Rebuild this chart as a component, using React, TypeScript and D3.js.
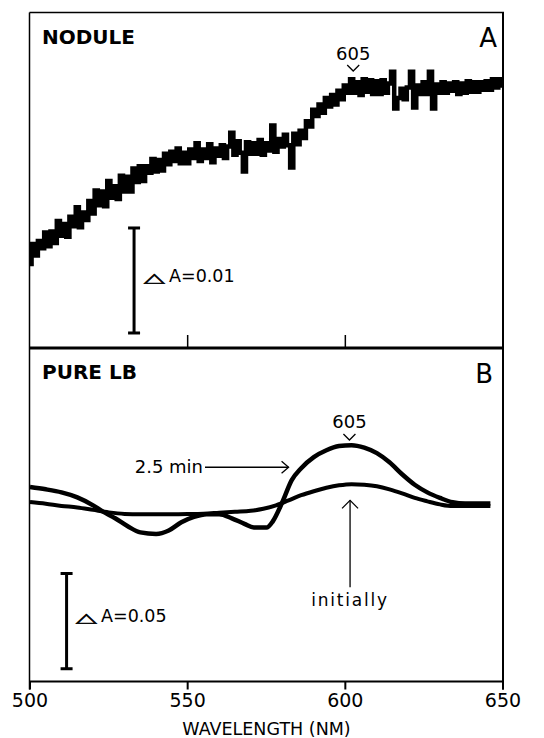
import React from "react";
import * as d3 from "d3";

// ---------- DATA ----------
// Wavelength axis
const X_TICKS = [500, 550, 600, 650];
const AXIS_TITLE = "WAVELENGTH (NM)";

// Panel A (nodule) trace, one reading per nm from 500 to 650, in mΔA (relative)
const NODULE_START_NM = 500;
const NODULE_VALUES = [
  8.0, 9.9, 8.8, 10.2, 9.5, 11.0, 9.7,
  11.1, 10.0, 12.1, 10.7, 11.8, 10.6,
  12.5, 11.6, 13.4, 11.5, 12.9,
  12.2, 14.0, 12.8, 15.0, 13.6,
  14.9, 13.5, 15.9, 14.3, 15.4, 14.2,
  16.4, 14.9, 16.3, 14.9, 17.1,
  15.8, 17.3, 15.9, 17.3, 16.7,
  18.0, 16.8, 17.9, 16.9, 18.5,
  17.5, 18.7, 17.8, 19.0, 17.6, 18.6,
  17.6, 18.9, 18.1, 19.5, 17.8,
  18.9, 18.1, 19.4, 17.7, 19.0,
  18.3, 19.3, 18.1, 19.2, 20.5,
  18.4, 19.7, 18.6, 16.8, 19.6, 18.5,
  19.5, 18.5, 19.8, 18.4, 19.5,
  18.8, 21.2, 18.7, 19.9, 19.2,
  20.3, 19.3, 17.2, 20.4, 19.4, 20.7,
  20.0, 21.6, 21.1, 22.7, 22.1,
  23.2, 22.4, 23.8, 23.0, 24.1,
  23.2, 24.5, 23.7, 25.0, 24.3,
  25.6, 24.3, 25.3, 24.1, 25.6, 24.4,
  25.5, 24.2, 25.4, 24.2, 25.5,
  24.3, 25.2, 26.3, 22.8, 23.8,
  24.7, 23.7, 24.8, 26.3, 22.9, 25.0,
  24.2, 25.3, 24.2, 26.3, 22.8,
  25.1, 24.3, 25.3, 24.3, 25.2,
  24.5, 25.3, 24.2, 25.2, 24.3, 25.4,
  24.4, 25.3, 24.4, 25.3, 24.6,
  25.4, 24.6, 25.6, 24.8, 25.6, 25.0,
];

// Panel B (pure LB), in mΔA relative to the flat tail
const LB_25MIN_NM = [500, 505, 510, 515, 520, 523, 527, 531, 535, 540, 544, 548, 552, 556, 560, 564, 568, 571, 575, 577, 580, 583, 586, 590, 594, 598, 602, 606, 610, 614, 618, 622, 626, 630, 634, 638, 642, 646];
const LB_25MIN_VALUES = [9.6, 8.4, 6.8, 4.2, 0, -3.2, -6.8, -11, -14.2, -15, -13.2, -8.9, -6.1, -4.7, -4.7, -6.8, -9.7, -11.6, -11.7, -8.4, 1.6, 13.2, 19.5, 25.3, 28.9, 31.1, 31.6, 30.3, 27.4, 22.6, 16.3, 10.8, 6.8, 3.9, 1.6, 0.9, 0.9, 0.9];
const LB_INIT_NM = [500, 505, 510, 515, 520, 525, 530, 535, 540, 545, 550, 555, 560, 565, 570, 574, 578, 582, 586, 590, 594, 598, 602, 606, 610, 614, 618, 622, 626, 630, 634, 640, 646];
const LB_INIT_VALUES = [1.7, 0.8, -0.3, -1.1, -2.4, -3.7, -4.5, -4.7, -4.7, -4.7, -4.6, -4.4, -3.9, -3.4, -2.9, -1.8, 0, 2.6, 5.3, 7.4, 9.2, 10.5, 11.1, 10.8, 10, 8.4, 6.3, 3.9, 2.1, 0.5, -0.4, -0.4, -0.4];

// Annotations
const PANEL_A_LABEL = "NODULE";
const PANEL_B_LABEL = "PURE LB";
const PEAK_LABEL = "605";
const PEAK_A_NM = 602.5;
const PEAK_B_NM = 601.3;
const DELTA = "△";
const SCALE_A = { label: "A=0.01", size: 10, nm: 533, from: 1.43 };
const SCALE_B = { label: "A=0.05", size: 50, nm: 511.6, from: -85.8 };
const ARROW_25 = { label: "2.5 min", fromNm: 555.5, toNm: 582, v: 20 };
const ARROW_INIT = { label: "initially", nm: 601.5, top: 2.6, bottom: -43, textV: -52.6 };

// ---------- LAYOUT ----------
const W = 544;
const H = 738;
const LEFT = 30;
const RIGHT = 503;
const TOP_A = 12.5;
const MID = 348;
const BOT_B = 681.5;
const FONT = "'DejaVu Sans', sans-serif";

export default function App() {
  const x = d3.scaleLinear().domain([500, 650]).range([LEFT, RIGHT]);
  const yA = d3.scaleLinear().domain([0, 31.95]).range([MID, TOP_A]);
  const yB = d3.scaleLinear().domain([-92.5, 82.6]).range([BOT_B, MID]);

  const noduleLine = d3
    .line<number>()
    .x((_, i) => x(NODULE_START_NM + i))
    .y((d) => yA(d))
    .curve(d3.curveStep);

  const lbLine = d3
    .line<[number, number]>()
    .x((d) => x(d[0]))
    .y((d) => yB(d[1]))
    .curve(d3.curveMonotoneX);

  const lb25 = LB_25MIN_NM.map((n, i) => [n, LB_25MIN_VALUES[i]] as [number, number]);
  const lbInit = LB_INIT_NM.map((n, i) => [n, LB_INIT_VALUES[i]] as [number, number]);

  const scaleBar = (cx: number, y1: number, y2: number) => (
    <g stroke="#000" strokeWidth={3}>
      <line x1={cx} x2={cx} y1={y1} y2={y2} />
      <line x1={cx - 6} x2={cx + 6} y1={y1} y2={y1} />
      <line x1={cx - 6} x2={cx + 6} y1={y2} y2={y2} />
    </g>
  );

  const triangle = (tx: number, ty: number) => (
    <text
      x={0}
      y={0}
      fontFamily={FONT}
      fontSize={30}
      transform={`translate(${tx},${ty}) scale(0.9,0.42)`}
      fill="#000"
      stroke="#000"
      strokeWidth={1.2}
    >
      {DELTA}
    </text>
  );

  const sAx = x(SCALE_A.nm);
  const sAy1 = yA(SCALE_A.from + SCALE_A.size);
  const sAy2 = yA(SCALE_A.from);
  const sBx = x(SCALE_B.nm);
  const sBy1 = yB(SCALE_B.from + SCALE_B.size);
  const sBy2 = yB(SCALE_B.from);

  const pAx = x(PEAK_A_NM);
  const pBx = x(PEAK_B_NM);

  const a25x1 = x(ARROW_25.fromNm);
  const a25x2 = x(ARROW_25.toNm);
  const a25y = yB(ARROW_25.v);

  const aIx = x(ARROW_INIT.nm);
  const aIy1 = yB(ARROW_INIT.top);
  const aIy2 = yB(ARROW_INIT.bottom);

  return (
    <svg
      width={W}
      height={H}
      style={{ position: "absolute", left: 0, top: 0, background: "#fff" }}
    >
      <rect x={0} y={0} width={W} height={H} fill="#fff" />

      {/* frame */}
      <g stroke="#000" fill="none">
        <line x1={LEFT - 0.5} x2={RIGHT + 1} y1={TOP_A} y2={TOP_A} strokeWidth={1.5} />
        <line x1={LEFT - 0.5} x2={LEFT - 0.5} y1={TOP_A} y2={BOT_B + 8} strokeWidth={1.5} />
        <line x1={RIGHT} x2={RIGHT} y1={TOP_A} y2={BOT_B + 8} strokeWidth={2} />
        <line x1={LEFT - 0.5} x2={RIGHT + 1} y1={MID} y2={MID} strokeWidth={3} />
        <line x1={LEFT - 0.5} x2={RIGHT + 1} y1={BOT_B} y2={BOT_B} strokeWidth={2} />
        {X_TICKS.slice(1, 3).map((t) => (
          <line key={"ta" + t} x1={x(t)} x2={x(t)} y1={MID - 13} y2={MID} strokeWidth={1.5} />
        ))}
        {X_TICKS.map((t) => (
          <line key={"tb" + t} x1={x(t)} x2={x(t)} y1={BOT_B} y2={BOT_B + 8} strokeWidth={2} />
        ))}
      </g>

      {/* tick labels */}
      {X_TICKS.map((t) => (
        <text
          key={"l" + t}
          x={x(t)}
          y={707}
          textAnchor="middle"
          fontFamily={FONT}
          fontSize={19}
          fill="#000"
        >
          {t}
        </text>
      ))}
      <text
        x={(LEFT + RIGHT) / 2}
        y={735}
        textAnchor="middle"
        fontFamily={FONT}
        fontSize={17.5}
        fill="#000"
      >
        {AXIS_TITLE}
      </text>

      {/* Panel A */}
      <text x={42} y={44} fontFamily={FONT} fontWeight="bold" fontSize={20} fill="#000">
        {PANEL_A_LABEL}
      </text>
      <text x={497} y={47} textAnchor="end" fontFamily={FONT} fontSize={26} fill="#000">
        A
      </text>
      <path d={noduleLine(NODULE_VALUES) || ""} fill="none" stroke="#000" strokeWidth={4.5} strokeLinejoin="miter" />
      <text x={pAx} y={60} textAnchor="middle" fontFamily={FONT} fontSize={18} fill="#000">
        {PEAK_LABEL}
      </text>
      <path d={`M${pAx - 6},65 L${pAx},71 L${pAx + 6},65`} fill="none" stroke="#000" strokeWidth={1.3} />
      {scaleBar(sAx, sAy1, sAy2)}
      {triangle(144, 282)}
      <text x={169} y={282} fontFamily={FONT} fontSize={17.5} fill="#000">
        {SCALE_A.label}
      </text>

      {/* Panel B */}
      <text x={42} y={379} fontFamily={FONT} fontWeight="bold" fontSize={20} fill="#000">
        {PANEL_B_LABEL}
      </text>
      <text x={493} y={383} textAnchor="end" fontFamily={FONT} fontSize={26} fill="#000">
        B
      </text>
      <path d={lbLine(lbInit) || ""} fill="none" stroke="#000" strokeWidth={4} strokeLinejoin="round" />
      <path d={lbLine(lb25) || ""} fill="none" stroke="#000" strokeWidth={4.5} strokeLinejoin="round" />
      <text x={pBx} y={428} textAnchor="middle" fontFamily={FONT} fontSize={18} fill="#000">
        {PEAK_LABEL}
      </text>
      <path d={`M${pBx - 6},434 L${pBx},440 L${pBx + 6},434`} fill="none" stroke="#000" strokeWidth={1.3} />

      {/* 2.5 min arrow */}
      <text x={a25x1 - 2} y={a25y + 6} textAnchor="end" fontFamily={FONT} fontSize={18} fill="#000">
        {ARROW_25.label}
      </text>
      <line x1={a25x1} x2={a25x2} y1={a25y} y2={a25y} stroke="#000" strokeWidth={1.3} />
      <path d={`M${a25x2 - 7},${a25y - 6} L${a25x2},${a25y} L${a25x2 - 7},${a25y + 6}`} fill="none" stroke="#000" strokeWidth={1.3} />

      {/* initially arrow */}
      <line x1={aIx} x2={aIx} y1={aIy1} y2={aIy2} stroke="#000" strokeWidth={1.3} />
      <path d={`M${aIx - 8},${aIy1 + 8} L${aIx},${aIy1} L${aIx + 8},${aIy1 + 8}`} fill="none" stroke="#000" strokeWidth={1.3} />
      <text x={aIx} y={yB(ARROW_INIT.textV)} textAnchor="middle" fontFamily={FONT} fontSize={17} letterSpacing={1.8} fill="#000">
        {ARROW_INIT.label}
      </text>

      {scaleBar(sBx, sBy1, sBy2)}
      {triangle(76, 622)}
      <text x={101} y={622} fontFamily={FONT} fontSize={17.5} fill="#000">
        {SCALE_B.label}
      </text>
    </svg>
  );
}
